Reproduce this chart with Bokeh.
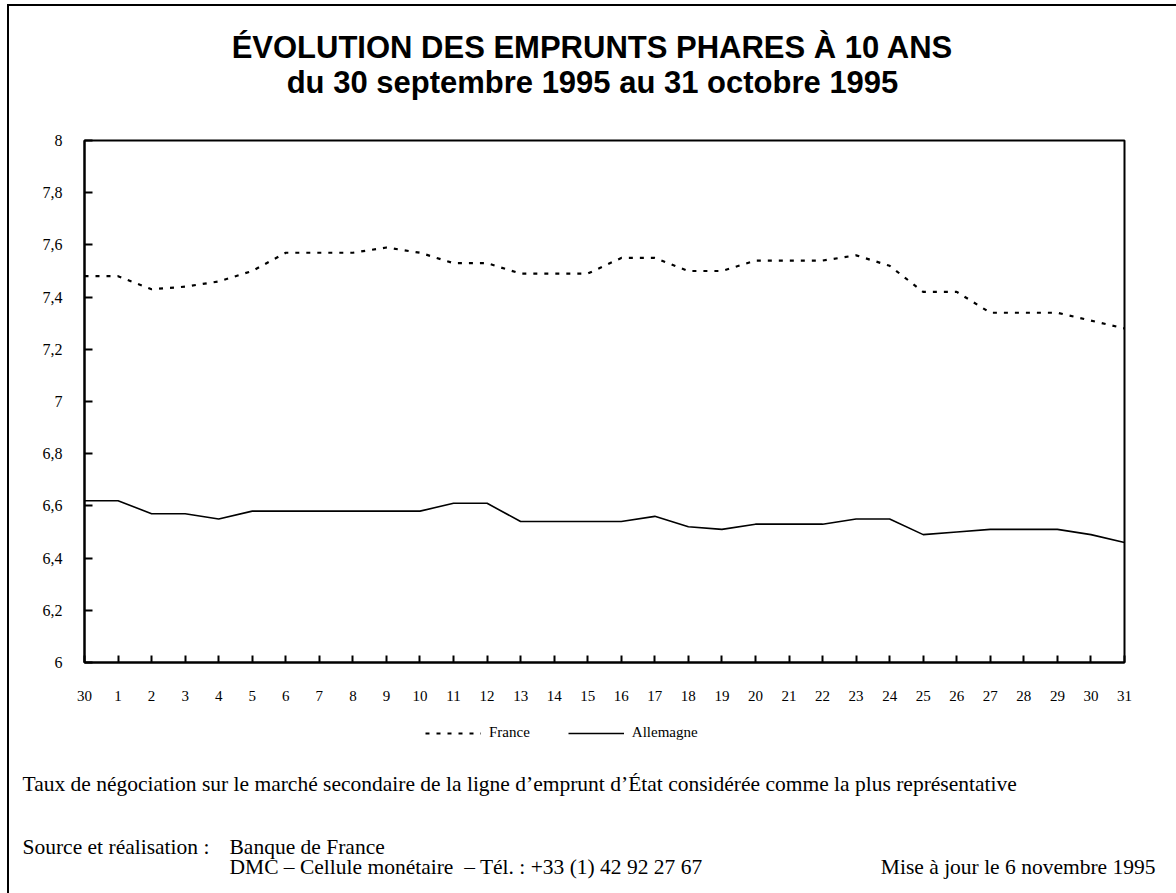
from bokeh.plotting import figure
from bokeh.models import (Range1d, FixedTicker, CustomJSTickFormatter,
                          Legend, LegendItem)
from bokeh.layouts import column
from bokeh.core.properties import value
from bokeh.embed import file_html
from bokeh.resources import INLINE

day_labels = ["30"] + [str(d) for d in range(1, 32)]
france = [7.48, 7.48, 7.43, 7.44, 7.46, 7.50, 7.57, 7.57, 7.57, 7.59, 7.57,
          7.53, 7.53, 7.49, 7.49, 7.49, 7.55, 7.55, 7.50, 7.50, 7.54, 7.54,
          7.54, 7.56, 7.52, 7.42, 7.42, 7.34, 7.34, 7.34, 7.31, 7.28]
allemagne = [6.62, 6.62, 6.57, 6.57, 6.55, 6.58, 6.58, 6.58, 6.58, 6.58, 6.58,
             6.61, 6.61, 6.54, 6.54, 6.54, 6.54, 6.56, 6.52, 6.51, 6.53, 6.53,
             6.53, 6.55, 6.55, 6.49, 6.50, 6.51, 6.51, 6.51, 6.49, 6.46]
y_ticks = [6.0, 6.2, 6.4, 6.6, 6.8, 7.0, 7.2, 7.4, 7.6, 7.8, 8.0]
series_names = ["France", "Allemagne"]

title_lines = ["ÉVOLUTION DES EMPRUNTS PHARES À 10 ANS",
               "du 30 septembre 1995 au 31 octobre 1995"]
note = "Taux de négociation sur le marché secondaire de la ligne d\u2019emprunt d\u2019État considérée comme la plus représentative"
source_label = "Source et réalisation :"
source_lines = ["Banque de France",
                "DMC \u2013 Cellule monétaire \u00a0\u2013 Tél. : +33 (1) 42 92 27 67"]
update = "Mise à jour le 6 novembre 1995"

serif = "Liberation Serif"
sans = "Liberation Sans"
W = 1167
X0, X1 = 9, 1176  # page x extent of the drawing


def blank(y_top, y_bottom):
    f = figure(width=W, height=y_bottom - y_top, output_backend="svg",
               toolbar_location=None, x_range=Range1d(X0, X1),
               y_range=Range1d(y_bottom, y_top), min_border=0,
               x_axis_location=None, y_axis_location=None, frame_align=False)
    f.grid.visible = False
    f.outline_line_color = None
    return f


# header with titles
header = blank(6, 130)
header.text(x=[592, 592], y=[47, 82], text=title_lines, text_font=value(sans),
            text_font_style="bold", text_font_size="31px", text_align="center",
            text_baseline="middle", text_color="black")

# main chart
xs = list(range(len(day_labels)))
p = figure(width=W, height=580, output_backend="svg", toolbar_location=None,
           x_range=Range1d(0, len(day_labels) - 1), y_range=Range1d(6, 8),
           min_border_left=75, min_border_right=52, min_border_top=10,
           min_border_bottom=48, frame_align=False)
p.grid.visible = False
p.outline_line_color = "black"
p.outline_line_width = 2
p.outline_line_alpha = 1

p.xaxis.ticker = FixedTicker(ticks=xs)
p.xaxis.major_label_overrides = {i: l for i, l in zip(xs, day_labels)}
p.yaxis.ticker = FixedTicker(ticks=y_ticks)
p.yaxis.formatter = CustomJSTickFormatter(code="""
    const r = Math.round(tick);
    if (Math.abs(tick - r) < 1e-6) { return String(r); }
    return tick.toFixed(1).replace('.', ',');
""")
for ax in (p.xaxis[0], p.yaxis[0]):
    ax.axis_line_color = "black"
    ax.axis_line_width = 2
    ax.major_tick_line_color = "black"
    ax.major_tick_line_width = 2
    ax.major_tick_out = 0
    ax.minor_tick_line_color = None
    ax.major_label_text_font = serif
    ax.major_label_text_color = "black"
p.yaxis.major_tick_in = 8
p.xaxis.major_tick_in = 7
p.yaxis.major_label_text_font_size = "16px"
p.xaxis.major_label_text_font_size = "15px"
p.yaxis.major_label_standoff = 22
p.xaxis.major_label_standoff = 28

fr_style = dict(line_color="black", line_width=2.2, line_dash="4 7")
de_style = dict(line_color="black", line_width=1.6)
p.line(xs, france, **fr_style)
p.line(xs, allemagne, **de_style)

# footer: legend and notes
footer = blank(710, 893)
# legend keys (same styles as the series above; no visible points of their own)
nan = float("nan")
k_fr = footer.line([X0], [nan], **fr_style)
k_de = footer.line([X0], [nan], **de_style)
legend = Legend(items=[LegendItem(label=series_names[0], renderers=[k_fr]),
                       LegendItem(label=series_names[1], renderers=[k_de])],
                orientation="horizontal", location=(416, 152),
                glyph_width=56, glyph_height=16, label_standoff=8, spacing=38,
                padding=0, margin=0, border_line_color=None,
                background_fill_alpha=0, label_text_font=serif,
                label_text_color="black",
                label_text_font_size="15px", label_height=16)
footer.add_layout(legend, "center")

txt = dict(text_font=value(serif), text_font_size="21.5px",
           text_baseline="middle", text_color="black")
footer.text(x=[22, 22], y=[783, 846], text=[note, source_label],
            text_align="left", **txt)
footer.text(x=[229, 229], y=[846, 866], text=source_lines,
            text_align="left", **txt)
footer.text(x=[1155], y=[866], text=[update], text_align="right", **txt)

page = column(header, p, footer, spacing=0,
              styles={"margin-left": "7px", "margin-top": "4px",
                      "border-left": "2px solid black",
                      "border-top": "2px solid black"})

open("out.html", "w").write(file_html(page, INLINE))
